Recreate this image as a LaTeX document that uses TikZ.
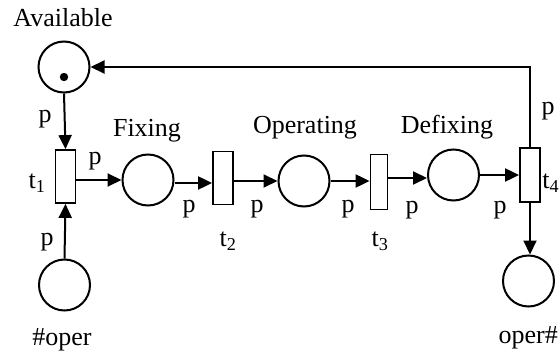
\documentclass[tikz,border=0pt]{standalone}
\usepackage{fontspec}
\setmainfont{Liberation Serif}
\usetikzlibrary{arrows.meta}
\begin{document}
\begin{tikzpicture}[x=1pt,y=-1pt,
  font=\fontsize{26}{31}\selectfont,
  place/.style={draw,circle,line width=2pt,minimum size=51pt,inner sep=0pt},
  trans/.style={draw,rectangle,line width=1.8pt,minimum width=20pt,minimum height=53pt,inner sep=0pt},
  arc/.style={line width=2pt,-{Triangle[length=14pt,width=13pt]}},
  lbl/.style={inner sep=0pt}]
\useasboundingbox (0,0) rectangle (560,353);
% places
\node[place] (avail) at (64,67) {};
\fill (64,77) circle (4.2pt);
\node[place] (oper1) at (64.5,285) {};
\node[place] (fix) at (148,180) {};
\node[place] (op) at (304,181) {};
\node[place] (defix) at (453.5,175) {};
\node[place] (oper2) at (528.5,281) {};
% transitions
\node[trans] (t1) at (65.5,176.5) {};
\node[trans] (t2) at (223,178) {};
\node[trans,minimum width=17pt,minimum height=55pt] (t3) at (379,182) {};
\node[trans,minimum height=54pt] (t4) at (530,175) {};
% place labels
\node[lbl] (Lavail) at (63,18) {Available};
\node[lbl] (Loper1) at (62,340) {\#oper};
\node[lbl] (Lfix) at (147,131) {Fixing};
\node[lbl] (Lop) at (305,128) {Operating};
\node[lbl] (Ldefix) at (447,127) {Defixing};
\node[lbl,anchor=east] (Loper2) at (558,338) {oper\#};
% transition labels
\node[lbl] (Lt1) at (37,183) {t\textsubscript{1}};
\node[lbl] (Lt2) at (228,241) {t\textsubscript{2}};
\node[lbl] (Lt3) at (380,241) {t\textsubscript{3}};
\node[lbl,anchor=east] (Lt4) at (559.5,183) {t\textsubscript{4}};
% arcs
\draw[arc] (avail.south) -- (t1.north);
\draw[arc] (oper1.north) -- (t1.south);
\draw[arc] (t1.east |- fix.west) -- (fix.west);
\draw[arc] (fix.east |- 0,183) -- (t2.west |- 0,183);
\draw[arc] (t2.east |- op.west) -- (op.west);
\draw[arc] (op.east) -- (t3.west |- op.east);
\draw[arc] (t3.east |- 0,178) -- (defix.west |- 0,178);
\draw[arc] (defix.east) -- (t4.west |- defix.east);
\draw[arc] (t4.north) |- (avail.east);
\draw[arc] (t4.south) -- (oper2.north -| t4.south);
% arc weights
\node[lbl] at (45,119) {p};
\node[lbl] at (95,161) {p};
\node[lbl] at (47,242) {p};
\node[lbl] at (189,209) {p};
\node[lbl] at (257,209) {p};
\node[lbl] at (348,209) {p};
\node[lbl] at (412,210) {p};
\node[lbl] at (500,210) {p};
\node[lbl] at (548,111) {p};
\end{tikzpicture}
\end{document}
